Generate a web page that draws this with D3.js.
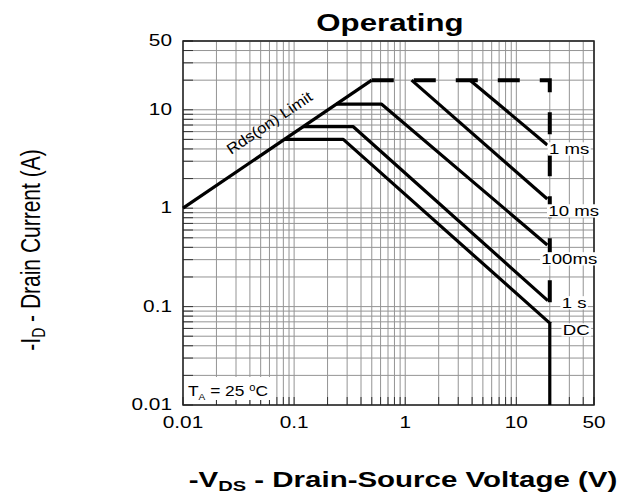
<!DOCTYPE html>
<html><head><meta charset="utf-8">
<script src="https://cdn.jsdelivr.net/npm/d3@7"></script>
<style>
body{margin:0;background:#fff}
svg{display:block}
text{font-family:"Liberation Sans",Arial,Helvetica,sans-serif;fill:#000}
</style>
</head><body>
<svg id="c" width="629" height="495"></svg>
<script>
// ---- data ----
const xTickValues = [0.01, 0.1, 1, 10, 50];
const xTickLabels = ["0.01", "0.1", "1", "10", "50"];
const yTickValues = [0.01, 0.1, 1, 10, 50];
const yTickLabels = ["0.01", "0.1", "1", "10", "50"];
const rdsLimit   = [[0.01, 1], [0.5, 20]];
const boundary   = [[0.5, 20], [20, 20], [20, 0.068]];
const curve1ms   = [[3.83, 20], [19, 4.39]];
const curve10ms  = [[1.14, 20], [19, 1.24]];
const curve100ms = [[0.240, 11.4], [0.614, 11.4], [19, 0.423]];
const curve1s    = [[0.1205, 6.73], [0.341, 6.73], [19.2, 0.115]];
const curveDC    = [[0.0818, 5], [0.277, 5], [20, 0.068], [20, 0.01]];
const curveNames = ["1 ms", "10 ms", "100ms", "1 s", "DC"];
const nameAnchorV = [19.7, 19.4, 16.8, 25.6, 26.2];
const nameAnchorI = [3.99, 0.936, 0.305, 0.109, 0.0578];

// ---- layout ----
const svg = d3.select("#c");
const x = d3.scaleLog().domain([0.01, 50]).range([183, 594]);
const y = d3.scaleLog().domain([0.01, 50]).range([405, 41]);
const SX = 1.3;

// grid values
const gridVals = [];
[0.01, 0.1, 1, 10].forEach(d => { for (let k = 1; k <= 9; k++) { const v = +(d * k).toPrecision(3); if (v <= 50) gridVals.push(v); } });
gridVals.push(50);

const grid = svg.append("g");
grid.selectAll("line.v").data(gridVals).join("line")
  .attr("x1", d => x(d)).attr("x2", d => x(d)).attr("y1", y(50)).attr("y2", y(0.01))
  .attr("stroke", "#949494").attr("stroke-width", 1);
grid.selectAll("line.h").data(gridVals).join("line")
  .attr("y1", d => y(d)).attr("y2", d => y(d)).attr("x1", x(0.01)).attr("x2", x(50))
  .attr("stroke", "#949494").attr("stroke-width", 1);

// inner ticks
const ticks = svg.append("g");
ticks.selectAll("line.l").data(gridVals).join("line")
  .attr("x1", x(0.01)).attr("x2", x(0.01) + 10).attr("y1", d => y(d)).attr("y2", d => y(d))
  .attr("stroke", "#333").attr("stroke-width", 1);
ticks.selectAll("line.b").data(gridVals).join("line")
  .attr("y1", y(0.01)).attr("y2", y(0.01) - 8).attr("x1", d => x(d)).attr("x2", d => x(d))
  .attr("stroke", "#333").attr("stroke-width", 1);

// border
svg.append("rect").attr("x", x(0.01)).attr("y", y(50))
  .attr("width", x(50) - x(0.01)).attr("height", y(0.01) - y(50))
  .attr("fill", "none").attr("stroke", "#222").attr("stroke-width", 1.5);

// curves
const line = d3.line().x(d => x(d[0])).y(d => y(d[1]));
const solid = [rdsLimit, curve1ms, curve10ms, curve100ms, curve1s, curveDC];
svg.append("g").selectAll("path").data(solid).join("path")
  .attr("d", line).attr("fill", "none").attr("stroke", "#000")
  .attr("stroke-width", 3.2).attr("stroke-linejoin", "round");
svg.append("path").attr("d", line(boundary)).attr("fill", "none")
  .attr("stroke", "#000").attr("stroke-width", 4).attr("stroke-dasharray", "22,20");

// helper for stretched text
function sText(parent, px, py, str, size, anchor, weight, sx, bg) {
  const g = parent.append("g").attr("transform", `translate(${px},${py}) scale(${sx},1)`);
  const t = g.append("text").attr("x", 0).attr("y", 0).attr("font-size", size)
    .attr("text-anchor", anchor).attr("font-weight", weight || "normal").text(str);
  if (bg) {
    const b = t.node().getBBox();
    g.insert("rect", "text").attr("x", b.x - 1).attr("y", b.y + 1)
      .attr("width", b.width + 2).attr("height", b.height - 2).attr("fill", "#fff");
  }
  return t;
}

// curve labels
curveNames.forEach((n, i) => {
  sText(svg, x(nameAnchorV[i]), y(nameAnchorI[i]) + 5, n, 14, "start", "normal", 1.33, true);
});

// tick labels
xTickValues.forEach((v, i) => sText(svg, x(v), 428, xTickLabels[i], 16, "middle", "normal", SX));
yTickValues.forEach((v, i) => sText(svg, 172, y(v) + 5, yTickLabels[i], 16, "end", "normal", SX));

// title
sText(svg, 390, 31, "Operating", 24, "middle", "bold", SX);

// Rds(on) Limit label
svg.append("text").attr("transform", "translate(231,155) rotate(-34) scale(1.12,1)")
  .attr("font-size", 15).attr("fill", "#111").text("Rds(on) Limit");

// T_A label
{
  const g = svg.append("g").attr("transform", "translate(188,396) scale(1.12,1)");
  g.append("rect").attr("x", -3).attr("y", -19).attr("width", 80).attr("height", 23).attr("fill", "#fff");
  const t = g.append("text").attr("font-size", 15.5);
  t.append("tspan").text("T");
  t.append("tspan").attr("font-size", 9).attr("dy", 4).text("A");
  t.append("tspan").attr("dy", -4).text(" = 25 ");
  t.append("tspan").attr("font-size", 10).attr("dy", -5).text("o");
  t.append("tspan").attr("dy", 5).text("C");
}

// x axis title
{
  const g = svg.append("g").attr("transform", "translate(403,487) scale(1.34,1)");
  const t = g.append("text").attr("font-size", 22).attr("font-weight", "bold").attr("text-anchor", "middle");
  t.append("tspan").text("-V");
  t.append("tspan").attr("font-size", 15).attr("dy", 4).text("DS");
  t.append("tspan").attr("dy", -4).text(" - Drain-Source Voltage (V)");
}

// y axis title
{
  const g = svg.append("g").attr("transform", "translate(40,250) rotate(-90) scale(1,1.3)");
  const t = g.append("text").attr("font-size", 21).attr("text-anchor", "middle");
  t.append("tspan").text("-I");
  t.append("tspan").attr("font-size", 14).attr("dy", 4).text("D");
  t.append("tspan").attr("dy", -4).text(" - Drain Current (A)");
}
</script>
</body></html>
